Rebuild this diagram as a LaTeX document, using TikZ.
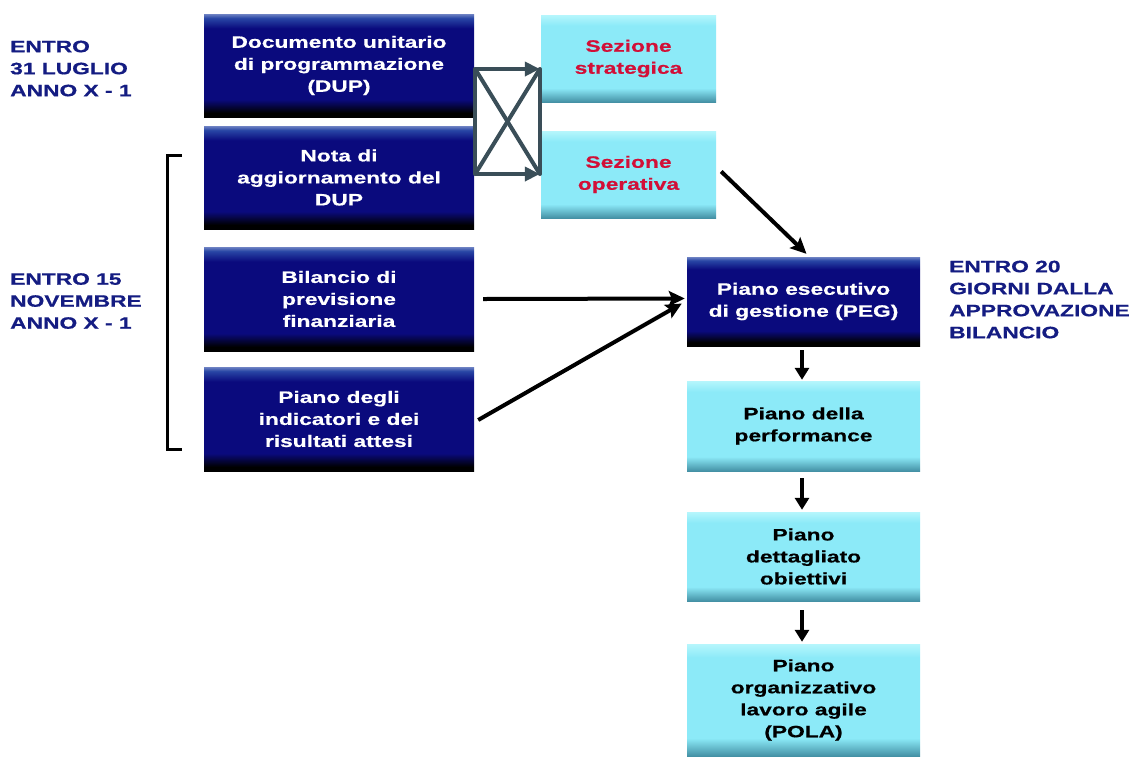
\documentclass[tikz,border=0pt]{standalone}
\usepackage{fontspec}
\setmainfont{Liberation Sans}[FakeStretch=1.38, BoldFeatures={FakeBold=0.6}]
\usetikzlibrary{arrows.meta,calc}
\definecolor{navybox}{RGB}{10,10,125}
\definecolor{hiblue}{RGB}{40,70,165}
\definecolor{hiblueB}{RGB}{110,130,195}
\definecolor{cyanbox}{RGB}{140,234,248}
\definecolor{cyanhi}{RGB}{182,246,252}
\definecolor{tealbot}{RGB}{68,145,165}
\definecolor{labelblue}{RGB}{20,28,130}
\definecolor{redtxt}{RGB}{210,15,55}
\definecolor{grayline}{RGB}{58,78,88}
\pgfdeclareverticalshading{darkshade}{100bp}{color(0bp)=(black); color(25bp)=(black); color(27bp)=(black); color(33.5bp)=(navybox); color(68bp)=(navybox); color(73bp)=(hiblue); color(75bp)=(hiblueB); color(100bp)=(hiblueB)}
\pgfdeclareverticalshading{lightshade}{100bp}{color(0bp)=(tealbot); color(25bp)=(tealbot); color(33bp)=(cyanbox); color(69bp)=(cyanbox); color(75bp)=(cyanhi); color(100bp)=(cyanhi)}
\begin{document}
\begin{tikzpicture}[x=1pt,y=-1pt,
  txt/.style={font=\fontsize{16.5}{22}\selectfont\bfseries, align=center},
  darkbox/.style={txt, shade, shading=darkshade, minimum width=270pt, text=white, inner sep=0pt},
  lightbox/.style={txt, shade, shading=lightshade, text=black, inner sep=0pt},
  sezbox/.style={lightbox, minimum width=175pt, minimum height=87pt, text=redtxt},
  rbox/.style={lightbox, minimum width=233pt},
  lbl/.style={font=\fontsize{16.5}{22}\selectfont\bfseries, align=left, text=labelblue, inner sep=0pt, anchor=north west},
  grayln/.style={draw=grayline, line width=4pt},
  grayarr/.style={grayln, -{Triangle[length=15pt,width=14pt]}},
  blkarr/.style={draw=black, line width=4pt, -{Stealth[length=16pt,width=15pt,inset=3pt]}},
  downarr/.style={draw=black, line width=4pt, -{Triangle[length=12pt,width=14pt]}}
]
\useasboundingbox (0,0) rectangle (1134,756);
\fill[white] (0,0) rectangle (1134,756);

% left column
\node[darkbox, minimum height=103pt] (dup)  at (339,65.5)  {Documento unitario\\di programmazione\\(DUP)};
\node[darkbox, minimum height=103pt] (nota) at (339,177.5) {Nota di\\aggiornamento del\\DUP};
\node[darkbox, minimum height=104pt] (bil)  at (339,299)   {Bilancio di\\previsione\\finanziaria};
\node[darkbox, minimum height=104pt] (ind)  at (339,419)   {Piano degli\\indicatori e dei\\risultati attesi};

% sections
\node[sezbox] (strat) at (628.5,58.5)  {Sezione\\strategica};
\node[sezbox] (oper)  at (628.5,174.5) {Sezione\\operativa};

% right column
\node[darkbox, minimum width=233pt, minimum height=89pt] (peg) at (803.5,301.5) {Piano esecutivo\\di gestione (PEG)};
\node[rbox, minimum height=90pt]  (perf) at (803.5,426)   {Piano della\\performance};
\node[rbox, minimum height=89pt]  (det)  at (803.5,556.5) {Piano\\dettagliato\\obiettivi};
\node[rbox, minimum height=112pt] (pola) at (803.5,700)   {Piano\\organizzativo\\lavoro agile\\(POLA)};

% labels
\node[lbl] (l1) at (10,40.5)  {ENTRO\\31 LUGLIO\\ANNO X - 1};
\node[lbl] (l2) at (10,273)   {ENTRO 15\\NOVEMBRE\\ANNO X - 1};
\node[lbl] (l3) at (949,260.5) {ENTRO 20\\GIORNI DALLA\\APPROVAZIONE\\BILANCIO};

% bracket
\draw[line width=3pt] (182,155) -- (167,155) -- (167,449) -- (182,449);

% gray crossing connectors
\coordinate (a1) at ($(dup.east)+(1,3.5)$);
\coordinate (a2) at ($(nota.east)+(1,-3.5)$);
\coordinate (b1) at ($(strat.west)+(-1,10.5)$);
\coordinate (b2) at ($(oper.west)+(-1,-0.5)$);
\draw[grayln, line cap=round] (a1) -- (a2);
\draw[grayln, line cap=round] (b1) -- (b2);
\draw[grayln] (a1) -- (b2);
\draw[grayln] (a2) -- (b1);
\draw[grayarr] (a1) -- (b1);
\draw[grayarr] (a2) -- (b2);

% black arrows
\draw[blkarr] ($(oper.east)+(5,-3)$) -- ($(peg.north)+(3,-3)$);
\draw[blkarr] ($(bil.east)+(9,0)$) -- ($(peg.west)+(-2,-3)$);
\draw[blkarr] ($(ind.east)+(4,1)$) -- ($(peg.west)+(-5,2)$);
\draw[downarr] ($(peg.south)+(-1.5,4)$) -- ($(perf.north)+(-1.5,-1)$);
\draw[downarr] ($(perf.south)+(-1.5,7)$) -- ($(det.north)+(-1.5,-2)$);
\draw[downarr] ($(det.south)+(-1.5,9)$) -- ($(pola.north)+(-1.5,-2)$);
\end{tikzpicture}
\end{document}
